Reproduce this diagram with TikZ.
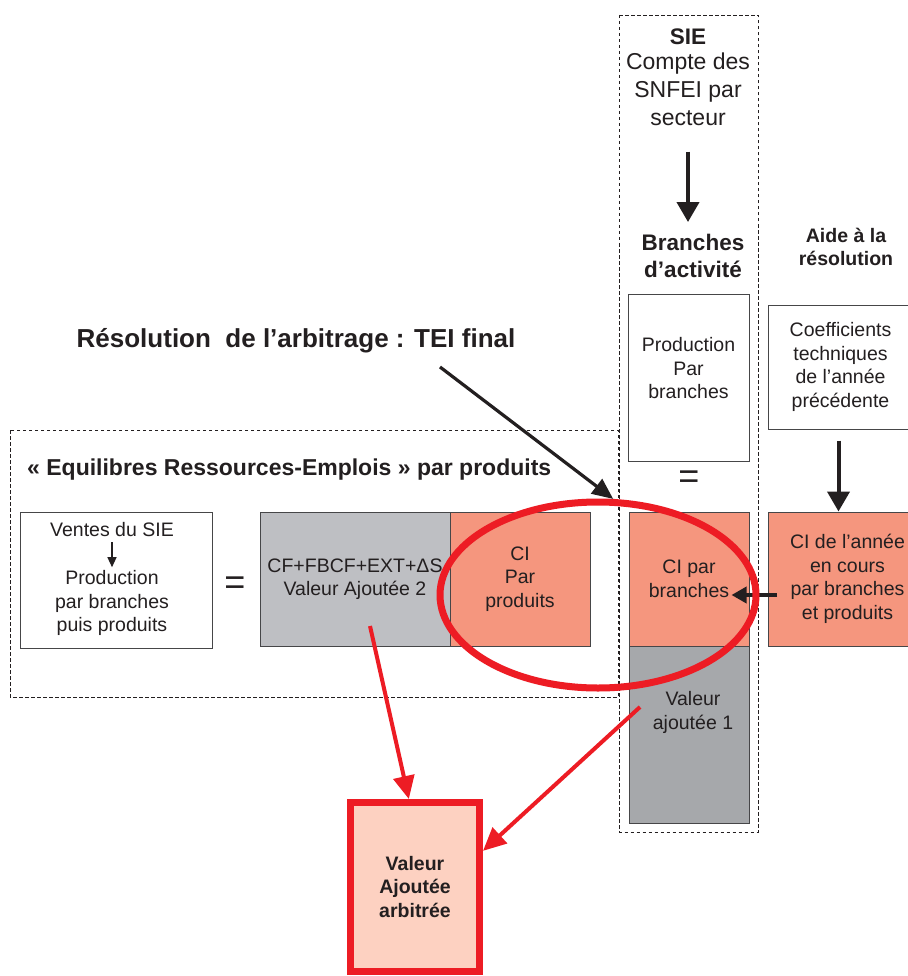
\documentclass[tikz,border=0pt]{standalone}
\usepackage{fontspec}
\setmainfont{Liberation Sans}
\usetikzlibrary{arrows.meta,shapes.geometric}
\definecolor{ink}{RGB}{35,31,32}
\definecolor{boxline}{RGB}{70,70,72}
\definecolor{salmon}{RGB}{245,150,126}
\definecolor{cfgray}{RGB}{190,191,195}
\definecolor{vagray}{RGB}{166,168,171}
\definecolor{pinkfill}{RGB}{253,209,193}
\definecolor{redline}{RGB}{237,28,36}
\begin{document}
\begin{tikzpicture}[x=1pt,y=-1pt,
  txt/.style={align=center,inner sep=0pt,text=ink,font=\fontsize{19.5}{23.5}\selectfont},
  boldtxt/.style={txt,font=\fontsize{19.5}{23.5}\selectfont\bfseries},
  headtxt/.style={txt,font=\fontsize{22.5}{27}\selectfont\bfseries},
  box/.style={draw=boxline,line width=1pt,inner sep=0pt,align=center,text=ink,font=\fontsize{19.5}{23.5}\selectfont},
  zone/.style={draw=ink,line width=0.9pt,dash pattern=on 3.5pt off 2.5pt},
  eqsign/.style={inner sep=0pt,text=ink,font=\fontsize{36}{36}\selectfont},
  ring/.style={ellipse,draw=redline,line width=7pt,inner sep=0pt,minimum width=316,minimum height=186},
  bigarrow/.style={draw=ink,line width=4pt,-{Triangle[length=20pt,width=22pt]}},
  midarrow/.style={draw=ink,line width=3.5pt,-{Triangle[length=15pt,width=16pt]}},
  diagarrow/.style={draw=ink,line width=3.2pt,-{Triangle[length=21pt,width=18pt]}},
  smallarrow/.style={draw=ink,line width=1.2pt,-{Triangle[length=10pt,width=9pt]}},
  redarrow/.style={draw=redline,line width=4pt,-{Triangle[length=23pt,width=21pt]}}]
\useasboundingbox[fill=white] (0,0) rectangle (907,976);
\draw[zone] (10,430) rectangle (618,697);
\draw[zone] (619.5,15) rectangle (758,832);
\node[txt,font=\fontsize{26}{30}\selectfont\bfseries] (resol) at (296,341) {Résolution\ \ de l’arbitrage : TEI final};
\node[txt,font=\fontsize{23}{27}\selectfont\bfseries,anchor=west] (erepp) at (27,470) {«~Equilibres Ressources-Emplois~» par produits};
\node[box,minimum width=192,minimum height=136] (venbox) at (116,580) {};
\node[txt] (ventes) at (112,530) {Ventes du SIE};
\node[txt] (venprod) at (112,603) {Production\\par branches\\puis produits};
\draw[smallarrow,shorten <=5pt,shorten >=3pt] (ventes) -- (venprod);
\node[eqsign] (eq1) at (235,586) {=};
\node[box,fill=cfgray,minimum width=190,minimum height=134] (cfbox) at (355,579) {CF+FBCF+EXT+ΔS\\Valeur Ajoutée 2};
\node[box,fill=salmon,minimum width=140,minimum height=134] (ciprod) at (520,579) {CI\\Par\\produits};
\node[headtxt] (sie) at (688,37) {SIE};
\node[txt,font=\fontsize{23}{28}\selectfont] (compte) at (688,89) {Compte des\\SNFEI par\\secteur};
\node[headtxt] (branches) at (693,256) {Branches\\d’activité};
\draw[bigarrow,shorten <=26pt,shorten >=12pt] (compte.south) -- (compte.south |- branches.north);
\node[box,minimum width=121,minimum height=167] (prodbr) at (688.5,377.5) {};
\node[txt] (prodbrtxt) at (688.5,368.5) {Production\\Par\\branches};
\node[eqsign] (eq2) at (689,480) {=};
\node[box,fill=salmon,minimum width=120,minimum height=134] (cibr) at (689,579) {CI par\\branches};
\node[box,fill=vagray,minimum width=120,minimum height=177] (va1) at (689,734.5) {};
\node[txt] (va1txt) at (693,712.5) {Valeur\\ajoutée 1};
\node[boldtxt,font=\fontsize{19.5}{23}\selectfont\bfseries] (aide) at (846,247) {Aide à la\\résolution};
\node[box,minimum width=144,minimum height=124,anchor=west] (coef) at (768,367) {Coefficients\\techniques\\de l’année\\précédente};
\node[box,fill=salmon,minimum width=158,minimum height=134,anchor=west] (cian) at (768,579) {CI de l’année\\en cours\\par branches\\et produits};
\draw[bigarrow,shorten <=11pt] ([xshift=-2pt]coef.south) -- ([xshift=-2pt]coef.south |- cian.north);
\draw[midarrow] ([xshift=9pt,yshift=-16pt]cian.west) -- ([xshift=-18pt,yshift=-16pt]cibr.east);
\node[ring] (ring) at (598,595) {};
\coordinate (arbsrc) at (440,367);
\draw[diagarrow] (arbsrc) -- (ring.81);
\node[box,draw=redline,line width=7pt,fill=pinkfill,minimum width=129,minimum height=169,font=\fontsize{19.5}{23.5}\selectfont\bfseries] (vaarb) at (415,887) {Valeur\\Ajoutée\\arbitrée};
\coordinate (cfsrc) at (370,626);
\coordinate (va1src) at (640,707);
\draw[redarrow] (cfsrc) -- (vaarb.94);
\draw[redarrow] (va1src) -- (vaarb.28);
\end{tikzpicture}
\end{document}
